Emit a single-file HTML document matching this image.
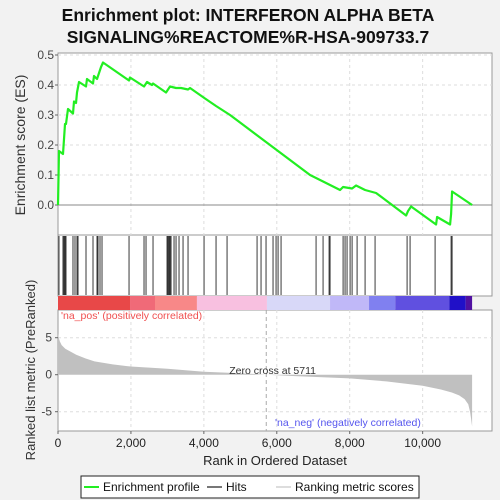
<!DOCTYPE html>
<html><head><meta charset="utf-8"><style>
body{margin:0;background:#f2f2f2;font-family:"Liberation Sans",sans-serif;}
svg{display:block}
</style></head><body>
<svg id="c" width="500" height="500" xmlns="http://www.w3.org/2000/svg">
<rect x="0" y="0" width="500" height="500" fill="#f2f2f2"/>
<text x="248" y="21" text-anchor="middle" font-size="17.5" font-weight="bold" fill="#111">Enrichment plot: INTERFERON ALPHA BETA</text>
<text x="248" y="43" text-anchor="middle" font-size="17.5" font-weight="bold" fill="#111">SIGNALING%REACTOME%R-HSA-909733.7</text>
<g id="g"></g>
</svg>
<script>
const esRanks=[0,27,137,165,192,219,274,411,439,494,521,576,768,795,960,987,1070,1125,1180,1234,1948,1975,2359,2441,2578,2606,2963,3072,3237,3374,3566,3621,4032,4334,4718,6912,7242,7735,7817,8064,8174,8421,8723,9546,9600,9683,10368,10396,10752,10780,10807,11356];
const esValues=[0,0.18,0.17,0.22,0.27,0.27,0.32,0.305,0.345,0.34,0.375,0.41,0.395,0.42,0.405,0.43,0.42,0.44,0.46,0.475,0.415,0.425,0.395,0.41,0.40,0.405,0.375,0.395,0.39,0.39,0.385,0.39,0.355,0.33,0.30,0.10,0.08,0.05,0.06,0.055,0.065,0.05,0.04,-0.035,-0.02,-0.005,-0.065,-0.04,-0.065,-0.03,0.045,0.0];
const hitRanks=[27,137,165,192,219,411,466,521,549,768,960,1070,1097,1152,1207,1948,2359,2414,2606,2990,3017,3045,3072,3100,3182,3237,3319,3429,3566,4005,4334,4636,5459,5568,5705,5897,5980,6035,6117,7077,7269,7434,7461,7818,7872,7927,8010,8065,8202,8421,8695,9573,9655,10341,10780,10807];
const metricRanks=[0,20,50,100,200,350,500,750,1000,1500,2000,3000,4000,5000,5711,6500,7000,8000,9000,10000,10500,10800,11000,11150,11250,11300,11330,11356];
const metricValues=[5.6,5.0,4.5,4.0,3.5,3.1,2.7,2.2,1.8,1.4,1.1,0.8,0.4,0.2,0,-0.2,-0.3,-0.5,-0.9,-1.5,-2.0,-2.4,-2.8,-3.3,-4.0,-5.0,-6.0,-7.0];
const xTicks=[0,2000,4000,6000,8000,10000];
const xTickLabels=["0","2,000","4,000","6,000","8,000","10,000"];
const esTicks=[0,0.1,0.2,0.3,0.4,0.5];
const esTickLabels=["0.0","0.1","0.2","0.3","0.4","0.5"];
const mTicks=[5,0,-5];
const mTickLabels=["5","0","-5"];
const barStops=[0,1975,2660,3810,5730,7460,8530,9250,10730,11180,11356];
const barColors=["#e84848","#f06a78","#f88888","#f8c0e0","#d8d8f8","#c0b8f8","#8080f0","#6050e0","#2010c8","#5010a0"];
const maxRank=11356, zeroCross=5711;

const L=58,R=492,TOP=53;
const X=r=>L+r*0.036465;
const YE=v=>205-v*300;
const YM=v=>374.7-v*7.4;
const NS="http://www.w3.org/2000/svg";
const g=document.getElementById('g');
function mk(t,a,p){const e=document.createElementNS(NS,t);for(const k in a)e.setAttribute(k,a[k]);(p||g).appendChild(e);return e;}

let e=mk('rect',{x:L,y:TOP,width:R-L,height:235-TOP,fill:'#fff',stroke:'#999'});


e=mk('rect',{x:L,y:235,width:R-L,height:61,fill:'#fff',stroke:'#999'});


e=mk('rect',{x:L,y:310,width:R-L,height:121,fill:'#fff',stroke:'#999'});



xTicks.forEach(t=>{if(t===0)return;
 mk('line',{x1:X(t),x2:X(t),y1:TOP,y2:235,stroke:'#ddd','stroke-dasharray':'3,3'});
 mk('line',{x1:X(t),x2:X(t),y1:310,y2:431,stroke:'#ddd','stroke-dasharray':'3,3'});});
esTicks.forEach((t,i)=>{
 mk('line',{x1:L,x2:R,y1:YE(t),y2:YE(t),stroke:t===0?'#888':'#ddd','stroke-dasharray':t===0?'':'3,3'});
 mk('line',{x1:L-3,x2:L,y1:YE(t),y2:YE(t),stroke:'#666'});
 e=mk('text',{x:L-4,y:YE(t)+4,'text-anchor':'end','font-size':12,fill:'#444'});e.textContent=esTickLabels[i];
 
 
});
mTicks.forEach((t,i)=>{
 if(t!==0)mk('line',{x1:L,x2:R,y1:YM(t),y2:YM(t),stroke:'#ddd','stroke-dasharray':'3,3'});
 mk('line',{x1:L-3,x2:L,y1:YM(t),y2:YM(t),stroke:'#666'});
 e=mk('text',{x:L-6,y:YM(t)+4,'text-anchor':'end','font-size':12,fill:'#444'});e.textContent=mTickLabels[i];
 
 
});
xTicks.forEach((t,i)=>{
 mk('line',{x1:X(t),x2:X(t),y1:431,y2:434,stroke:'#666'});
 e=mk('text',{x:X(t),y:447,'text-anchor':'middle','font-size':12,fill:'#222'});e.textContent=xTickLabels[i];
 
 
});

let d='M'+X(0)+','+YM(0);
metricRanks.forEach((r,i)=>{d+=' L'+X(r)+','+YM(metricValues[i]);});
d+=' L'+X(maxRank)+','+YM(0)+' Z';
e=mk('path',{d:d,fill:'#c0c0c0'});


mk('line',{x1:X(zeroCross),x2:X(zeroCross),y1:310,y2:431,stroke:'#aaa','stroke-dasharray':'4,3'});
e=mk('text',{x:X(zeroCross)-37,y:374,'font-size':10.5,fill:'#333'});e.textContent='Zero cross at 5711';


e=mk('text',{x:61,y:319,'font-size':10.5,fill:'#f05050'});e.textContent="'na_pos' (positively correlated)";


e=mk('text',{x:275,y:426,'font-size':10.5,fill:'#5555ee'});e.textContent="'na_neg' (negatively correlated)";



barColors.forEach((c,i)=>{
 e=mk('rect',{x:X(barStops[i]),y:296,width:X(barStops[i+1])-X(barStops[i]),height:14,fill:c});
 
 
});

hitRanks.forEach(r=>{
 e=mk('line',{x1:X(r),x2:X(r),y1:236,y2:295,stroke:'#222','stroke-width':0.9});
 
 
});

let p=esRanks.map((r,i)=>X(r)+','+YE(esValues[i])).join(' ');
e=mk('polyline',{points:p,fill:'none',stroke:'#22ee22','stroke-width':2.2,'stroke-linejoin':'round'});



e=mk('text',{x:0,y:0,transform:'translate(25,145) rotate(-90)','text-anchor':'middle','font-size':14,fill:'#333'});e.textContent='Enrichment score (ES)';


e=mk('text',{x:0,y:0,transform:'translate(35,370) rotate(-90)','text-anchor':'middle','font-size':13,fill:'#333'});e.textContent='Ranked list metric (PreRanked)';


e=mk('text',{x:275,y:465,'text-anchor':'middle','font-size':13,fill:'#222'});e.textContent='Rank in Ordered Dataset';



e=mk('rect',{x:81,y:476,width:338,height:22,fill:'#fff',stroke:'#222'});


mk('line',{x1:84,x2:99,y1:487,y2:487,stroke:'#22ee22','stroke-width':2});
e=mk('text',{x:103,y:491,'font-size':12,fill:'#111'});e.textContent='Enrichment profile';


mk('line',{x1:207,x2:222,y1:487,y2:487,stroke:'#777','stroke-width':2});
e=mk('text',{x:226,y:491,'font-size':12,fill:'#111'});e.textContent='Hits';


mk('line',{x1:276,x2:291,y1:487,y2:487,stroke:'#ddd','stroke-width':2});
e=mk('text',{x:295,y:491,'font-size':12,fill:'#111'});e.textContent='Ranking metric scores';


</script>
</body></html>
